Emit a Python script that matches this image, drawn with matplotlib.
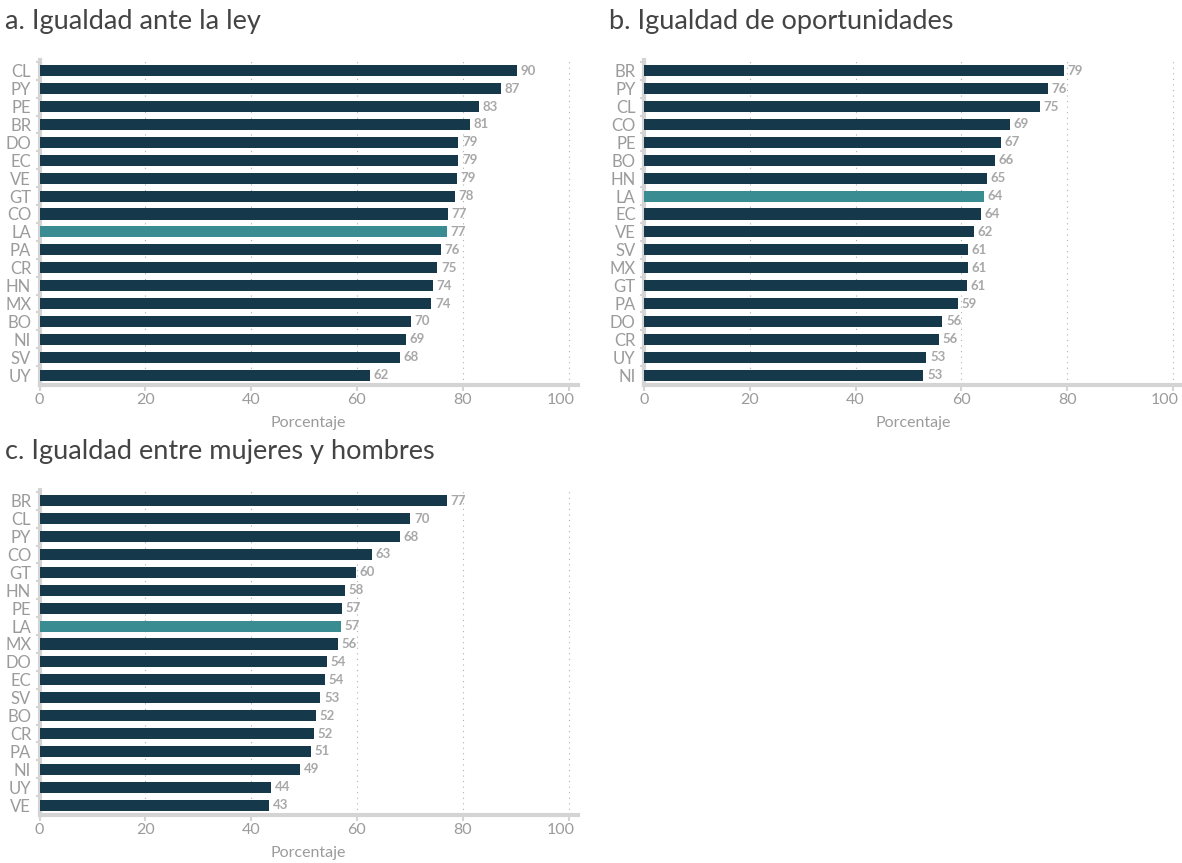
import numpy as np
import matplotlib.pyplot as plt
import matplotlib.transforms as mtransforms

plt.rcParams['font.family'] = ['Lato', 'DejaVu Sans']

# a. Igualdad ante la ley
paises_a = ["CL", "PY", "PE", "BR", "DO", "EC", "VE", "GT", "CO", "LA",
            "PA", "CR", "HN", "MX", "BO", "NI", "SV", "UY"]
valores_a = [90.3, 87.2, 83.1, 81.4, 79.2, 79.2, 78.9, 78.5, 77.2, 77.0,
             75.9, 75.2, 74.4, 74.1, 70.2, 69.3, 68.1, 62.4]

# b. Igualdad de oportunidades
paises_b = ["BR", "PY", "CL", "CO", "PE", "BO", "HN", "LA", "EC", "VE",
            "SV", "MX", "GT", "PA", "DO", "CR", "UY", "NI"]
valores_b = [79.4, 76.3, 74.8, 69.2, 67.4, 66.4, 64.8, 64.2, 63.7, 62.3,
             61.2, 61.3, 61.0, 59.4, 56.4, 55.7, 53.4, 52.8]

# c. Igualdad entre mujeres y hombres
paises_c = ["BR", "CL", "PY", "CO", "GT", "HN", "PE", "LA", "MX", "DO",
            "EC", "SV", "BO", "CR", "PA", "NI", "UY", "VE"]
valores_c = [77.0, 70.1, 68.2, 62.8, 59.8, 57.8, 57.1, 56.9, 56.4, 54.3,
             54.0, 53.1, 52.3, 51.9, 51.3, 49.2, 43.8, 43.4]

titulos = ["a. Igualdad ante la ley", "b. Igualdad de oportunidades",
           "c. Igualdad entre mujeres y hombres"]

OSCURO = "#15384b"
LA_COLOR = "#388c92"
GRIS = "#9b9b9b"
SPINE = "#d4d4d4"


def panel(ax, paises, valores, titulo):
    n = len(paises)
    y = np.arange(n)
    colores = [LA_COLOR if p == "LA" else OSCURO for p in paises]
    ax.barh(y, valores, height=0.62, color=colores, zorder=3)
    for yi, v in zip(y, valores):
        ax.text(v + 0.7, yi, str(int(round(v))), va="center", ha="left",
                fontsize=9.5, fontweight="bold", color="#a8a8a8", zorder=4)
    ax.set_ylim(n - 0.45, -0.6)
    ax.set_xlim(0, 101.7)
    ax.set_yticks(y)
    ax.set_yticklabels(paises)
    ax.set_yticks(y - 0.5, minor=True)
    ax.set_xticks([0, 20, 40, 60, 80, 100])
    ax.tick_params(axis="y", which="major", length=0, pad=6, labelsize=12,
                   labelcolor=GRIS)
    ax.tick_params(axis="y", which="minor", length=3, width=1.5, color=SPINE)
    ax.tick_params(axis="x", length=4, width=1.5, color=SPINE, labelsize=11.5,
                   labelcolor=GRIS, pad=2)
    # the last label sits a little left of its tick, as in the original
    offset = mtransforms.ScaledTranslation(-8 / 100, 0, ax.figure.dpi_scale_trans)
    lbl = ax.get_xticklabels()[-1]
    lbl.set_transform(lbl.get_transform() + offset)
    ax.grid(axis="x", linestyle=(0, (1, 4)), color="#b0b0b0", linewidth=0.8, zorder=0)
    for s in ["top", "right"]:
        ax.spines[s].set_visible(False)
    for s in ["left", "bottom"]:
        ax.spines[s].set_color(SPINE)
        ax.spines[s].set_linewidth(3)
    ax.set_xlabel("Porcentaje", color=GRIS, fontsize=11.5, labelpad=6)
    ax.set_title(titulo, loc="left", x=-0.065, fontsize=19.5, color="#444444", pad=22)


fig = plt.figure(figsize=(11.82, 8.63), dpi=100)
ax_a = fig.add_axes([39.5 / 1182, 1 - 385 / 863, 538 / 1182, 325 / 863])
ax_b = fig.add_axes([644 / 1182, 1 - 385 / 863, 538 / 1182, 325 / 863])
ax_c = fig.add_axes([39.5 / 1182, 1 - 815 / 863, 538 / 1182, 325 / 863])

panel(ax_a, paises_a, valores_a, titulos[0])
panel(ax_b, paises_b, valores_b, titulos[1])
panel(ax_c, paises_c, valores_c, titulos[2])

fig.savefig("out.png", dpi=100)
